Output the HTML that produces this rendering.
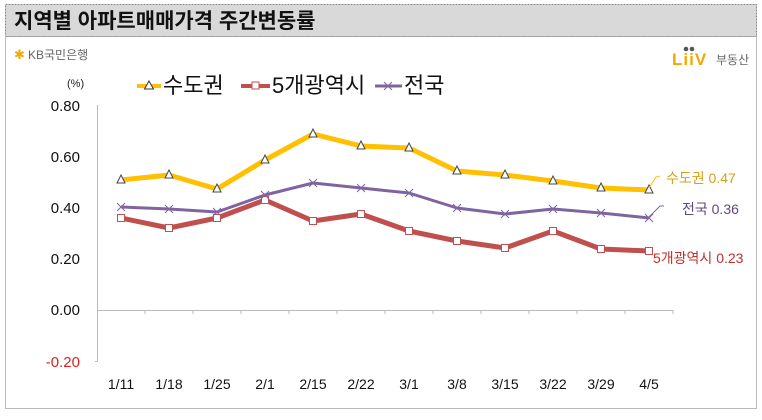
<!DOCTYPE html>
<html><head><meta charset="utf-8"><style>
body{margin:0;background:#fff;width:762px;height:415px;overflow:hidden;font-family:"Liberation Sans","Noto Sans CJK KR",sans-serif}
</style></head><body>
<svg width="762" height="415" xmlns="http://www.w3.org/2000/svg" font-family="Liberation Sans, Noto Sans CJK KR, sans-serif">
<rect x="5.5" y="4.5" width="751" height="32" fill="#d9d9d9" stroke="#888" stroke-dasharray="2,1"/>
<text x="14" y="28" font-size="21" font-weight="bold" fill="#111">지역별 아파트매매가격 주간변동률</text>
<rect x="5.5" y="36.5" width="751" height="372" fill="#fff" stroke="#bbb"/>
<line x1="5.5" y1="36.5" x2="756.5" y2="36.5" stroke="#999" stroke-dasharray="2,1"/>
<text x="14" y="59" font-size="13" fill="#f2a900">✱</text>
<text x="28" y="59" font-size="12" fill="#666">KB국민은행</text>
<text x="672" y="65" font-size="17" font-weight="bold" fill="#f2a900" letter-spacing="1">LiiV</text>
<circle cx="686" cy="49" r="2.3" fill="#555"/><circle cx="692" cy="49" r="2.3" fill="#555"/>
<text x="716" y="64" font-size="12" fill="#666">부동산</text>
<g font-size="22" fill="#111">
<line x1="137" y1="86" x2="161" y2="86" stroke="#ffc000" stroke-width="4"/>
<polygon points="149,81 153.5,89 144.5,89" fill="#fff" stroke="#333"/>
<text x="163" y="93">수도권</text>
<line x1="241" y1="86" x2="270" y2="86" stroke="#c0504d" stroke-width="4"/>
<rect x="252" y="82" width="7" height="7" fill="#fff" stroke="#c0504d"/>
<text x="272" y="93">5개광역시</text>
<line x1="375" y1="86" x2="402" y2="86" stroke="#8064a2" stroke-width="3"/>
<path d="M384,82 l8,8 M392,82 l-8,8" stroke="#8064a2"/>
<text x="404" y="93">전국</text>
</g>
<text x="67" y="87" font-size="11" fill="#222">(%)</text>
<g font-size="15" fill="#111" text-anchor="end">
<text x="80" y="111">0.80</text><text x="80" y="162">0.60</text><text x="80" y="213">0.40</text>
<text x="80" y="264">0.20</text><text x="80" y="315">0.00</text><text x="80" y="367" fill="#e02020">-0.20</text>
</g>
<line x1="97.5" y1="105" x2="97.5" y2="361" stroke="#bbb"/>
<line x1="95" y1="361.5" x2="97.5" y2="361.5" stroke="#bbb"/>
<line x1="97" y1="310.5" x2="673" y2="310.5" stroke="#bbb"/>
<path d="M145,310v4M193,310v4M241,310v4M289,310v4M337,310v4M385,310v4M433,310v4M481,310v4M529,310v4M577,310v4M625,310v4M673,310v4" stroke="#bbb"/>
<g font-size="14" fill="#111" text-anchor="middle">
<text x="121" y="389">1/11</text><text x="169" y="389">1/18</text><text x="217" y="389">1/25</text><text x="265" y="389">2/1</text><text x="313" y="389">2/15</text><text x="361" y="389">2/22</text><text x="409" y="389">3/1</text><text x="457" y="389">3/8</text><text x="505" y="389">3/15</text><text x="553" y="389">3/22</text><text x="601" y="389">3/29</text><text x="649" y="389">4/5</text>
</g>
<polyline fill="none" stroke="#ffc000" stroke-width="5" stroke-linejoin="round" points="121,180 169,175 217,189 265,160 313,134 361,146 409,148 457,171 505,175 553,181 601,188 649,190"/>
<polyline fill="none" stroke="#c0504d" stroke-width="5" stroke-linejoin="round" points="121,218 169,228 217,218 265,200 313,221 361,214 409,231 457,241 505,248 553,231 601,249 649,251"/>
<polyline fill="none" stroke="#8064a2" stroke-width="3" stroke-linejoin="round" points="121,207 169,209 217,212 265,195 313,183 361,188 409,193 457,208 505,214 553,209 601,213 649,218"/>
<g fill="#fff" stroke="#444" stroke-width="1">
<polygon points="121,175 125,183 117,183"/><polygon points="169,170 173,178 165,178"/><polygon points="217,184 221,192 213,192"/><polygon points="265,155 269,163 261,163"/><polygon points="313,129 317,137 309,137"/><polygon points="361,141 365,149 357,149"/><polygon points="409,143 413,151 405,151"/><polygon points="457,166 461,174 453,174"/><polygon points="505,170 509,178 501,178"/><polygon points="553,176 557,184 549,184"/><polygon points="601,183 605,191 597,191"/><polygon points="649,185 653,193 645,193"/>
</g>
<g fill="#fff" stroke="#c0504d" stroke-width="1">
<rect x="117.5" y="214.5" width="7" height="7"/><rect x="165.5" y="224.5" width="7" height="7"/><rect x="213.5" y="214.5" width="7" height="7"/><rect x="261.5" y="196.5" width="7" height="7"/><rect x="309.5" y="217.5" width="7" height="7"/><rect x="357.5" y="210.5" width="7" height="7"/><rect x="405.5" y="227.5" width="7" height="7"/><rect x="453.5" y="237.5" width="7" height="7"/><rect x="501.5" y="244.5" width="7" height="7"/><rect x="549.5" y="227.5" width="7" height="7"/><rect x="597.5" y="245.5" width="7" height="7"/><rect x="645.5" y="247.5" width="7" height="7"/>
</g>
<g stroke="#8064a2" stroke-width="1">
<path d="M117,203l8,8M125,203l-8,8 M165,205l8,8M173,205l-8,8 M213,208l8,8M221,208l-8,8 M261,191l8,8M269,191l-8,8 M309,179l8,8M317,179l-8,8 M357,184l8,8M365,184l-8,8 M405,189l8,8M413,189l-8,8 M453,204l8,8M461,204l-8,8 M501,210l8,8M509,210l-8,8 M549,205l8,8M557,205l-8,8 M597,209l8,8M605,209l-8,8 M645,214l8,8M653,214l-8,8"/>
</g>
<path d="M649,188 L656,177 L660,176" stroke="#ffc000" fill="none"/>
<path d="M649,217 L660,206 L664,206" stroke="#8064a2" fill="none"/>
<text x="666" y="183" font-size="14" fill="#d4a017">수도권 0.47</text>
<text x="682" y="214" font-size="14" fill="#5f497a">전국 0.36</text>
<text x="653" y="263" font-size="14" fill="#c0302d">5개광역시 0.23</text>
</svg>
</body></html>
